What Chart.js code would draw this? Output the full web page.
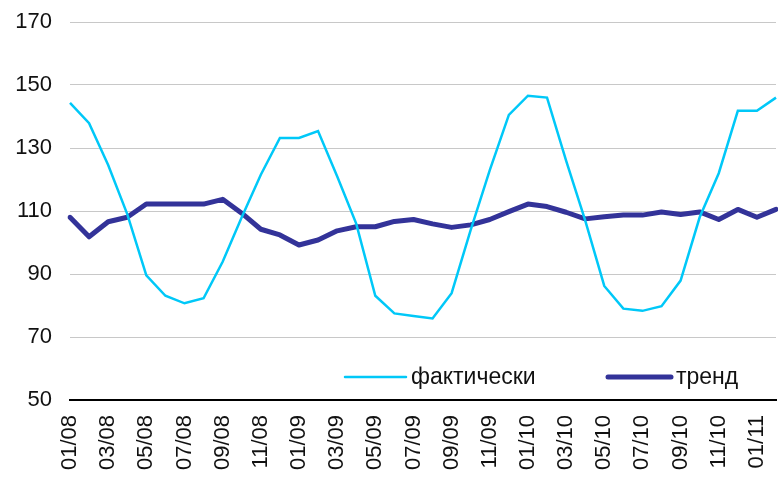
<!DOCTYPE html>
<html>
<head>
<meta charset="utf-8">
<script src="https://cdn.jsdelivr.net/npm/chart.js@4"></script>
<style>
  html, body { margin:0; padding:0; background:#fff; }
  #wrap { width:778px; height:481px; position:relative; }
</style>
</head>
<body>
<div id="wrap"><canvas id="trendChart"></canvas></div>
<script>
const months = [
    '01/08','02/08','03/08','04/08','05/08','06/08','07/08','08/08','09/08','10/08','11/08','12/08',
    '01/09','02/09','03/09','04/09','05/09','06/09','07/09','08/09','09/09','10/09','11/09','12/09',
    '01/10','02/10','03/10','04/10','05/10','06/10','07/10','08/10','09/10','10/10','11/10','12/10',
    '01/11','02/11'
]

const actual = [
    144.3, 137.9, 124.6, 109, 89.6, 83.1, 80.7, 82.3, 93.9, 108, 121.5, 133.2,
    133.2, 135.4, 121, 106, 83.1, 77.5, 76.7, 75.9, 83.9, 104, 123, 140.5,
    146.6, 146.0, 126, 107, 86.2, 79.0, 78.3, 79.8, 87.9, 108, 122, 141.8,
    141.8, 146.0
]

const trend = [
    108.0, 101.8, 106.6, 108.0, 112.2, 112.2, 112.2, 112.2, 113.7, 109.3, 104.2, 102.4,
    99.2, 100.8, 103.7, 105.0, 105.0, 106.7, 107.3, 105.9, 104.8, 105.6, 107.3, 109.8,
    112.2, 111.4, 109.6, 107.5, 108.2, 108.7, 108.7, 109.7, 108.9, 109.7, 107.3, 110.5,
    108.0, 110.5
]

const yTicks = [50, 70, 90, 110, 130, 150, 170]

const FONT = '"Liberation Sans", Arial, sans-serif'
const LIGHT = '#00c8f8'
const DARK = '#333399'

// legend sits inside the plot, bottom right
const legendInside = {
    id:'legendInside',
    afterDraw(chart) {
        const ctx = chart.ctx
        const area = chart.chartArea
        const y = area.bottom - 23
        ctx.save()
        ctx.lineCap = 'round'

        ctx.strokeStyle = LIGHT
        ctx.lineWidth = 2.5
        ctx.beginPath()
        ctx.moveTo(345, y)
        ctx.lineTo(406, y)
        ctx.stroke()

        ctx.strokeStyle = DARK
        ctx.lineWidth = 5
        ctx.beginPath()
        ctx.moveTo(608, y)
        ctx.lineTo(671, y)
        ctx.stroke()

        ctx.fillStyle = '#111'
        ctx.font = '23px ' + FONT
        ctx.textBaseline = 'middle'
        ctx.fillText('фактически', 411, y + 1)
        ctx.fillText('тренд', 676, y + 1)
        ctx.restore()
    }
}

new Chart(document.getElementById('trendChart'), {
    type:'line',
    data:{
        labels:months,
        datasets:[{
            label:'фактически',
            data:actual,
            borderColor:LIGHT,
            borderWidth:2.5,
            pointRadius:0,
            tension:0,
            fill:false
        }, {
            label:'тренд',
            data:trend,
            borderColor:DARK,
            borderWidth:5,
            borderJoinStyle:'round',
            borderCapStyle:'round',
            pointRadius:0,
            tension:0,
            fill:false
        }]
    },
    options:{
        responsive:true,
        maintainAspectRatio:false,
        animation:false,
        layout:{
            padding:{ top:22, right:2, left:0, bottom:0 }
        },
        plugins:{
            legend:{ display:false },
            tooltip:{ enabled:false }
        },
        scales:{
            x:{
                offset:false,
                grid:{ color:'transparent', drawTicks:false },
                border:{ color:'#000', width:2 },
                ticks:{
                    autoSkip:false,
                    maxRotation:90,
                    minRotation:90,
                    padding:15,
                    color:'#111',
                    font:{ family:FONT, size:22 },
                    callback:function(value, index) {
                        return index % 2 === 0 ? months[index] : ''
                    }
                },
                afterFit:function(scale) {
                    scale.height = 81
                    scale.paddingLeft = 0
                    scale.paddingRight = 0
                }
            },
            y:{
                min:50,
                max:170,
                afterBuildTicks:function(scale) {
                    scale.ticks = yTicks.map(v => ({ value:v }))
                },
                grid:{ color:'#c8c8c8', lineWidth:1, drawTicks:false },
                border:{ display:false },
                ticks:{
                    padding:18,
                    color:'#111',
                    font:{ family:FONT, size:22 }
                },
                afterFit:function(scale) {
                    scale.width = 70
                    scale.paddingTop = 0
                    scale.paddingBottom = 0
                }
            }
        }
    },
    plugins:[legendInside]
})
</script>
</body>
</html>
